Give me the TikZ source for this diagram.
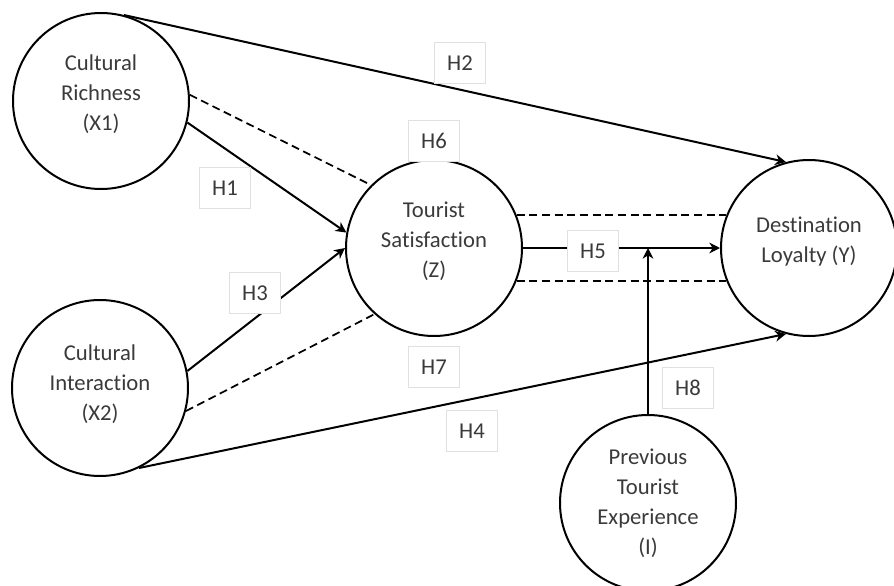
\documentclass[tikz,border=0pt]{standalone}
\usepackage{fontspec}
\setmainfont{Carlito}[Ligatures=NoCommon]
\usepackage{xcolor}
\definecolor{cLine}{HTML}{000000}
\definecolor{cText}{HTML}{3A3A3A}
\definecolor{cFrame}{HTML}{E0E0E0}
\usetikzlibrary{positioning,arrows.meta,calc}
\tikzset{
  node-construct/.style={draw=cLine,line width=1.5pt,circle,minimum size=132pt,
    inner sep=0pt},
  node-caption/.style={align=center,inner sep=0pt,text=cText,
    font=\fontsize{17}{22.5}\selectfont},
  node-hyp/.style={draw=cFrame,line width=0.5pt,fill=white,minimum width=38pt,
    minimum height=31pt,inner sep=0pt,text=cText,font=\fontsize{17}{20}\selectfont},
  arrow/.style={-{Stealth[length=8pt,width=8pt,inset=2.5pt]},line width=1.5pt,draw=cLine},
  link-dashed/.style={line width=1.3pt,draw=cLine,dash pattern=on 6pt off 3.5pt},
}

\begin{document}
\begin{tikzpicture}[x=0.75pt,y=-0.75pt]
  \useasboundingbox (0,0) rectangle (894,586);
  % constructs
  \node[node-construct,label={[node-caption,yshift=5pt]center:{Cultural\\Richness\\(X1)}}]
    (x1) at (101,101) {};
  \node[node-construct,label={[node-caption,yshift=3pt]center:{Cultural\\Interaction\\(X2)}}]
    (x2) at (100,388) {};
  \node[node-construct,label={[node-caption,yshift=5pt]center:{Tourist\\Satisfaction\\(Z)}}]
    (z) at (434,248) {};
  \node[node-construct,label={[node-caption,yshift=5pt]center:{Destination\\Loyalty (Y)}}]
    (y) at (809,248) {};
  \node[node-construct,label={[node-caption]center:{Previous\\Tourist\\Experience\\(I)}}]
    (i) at (648,503) {};
  \coordinate (mod) at (i.north |- z.east);
  % direct paths
  \draw[arrow] (x1.75)  -- (y.105);
  \draw[arrow] (x1.-14) -- (z.170);
  \draw[arrow] (x2.11)  -- (z.180);
  \draw[arrow] (x2.-64) -- (y.255);
  \draw[arrow] (z.east) -- (y.west);
  \draw[arrow] (i.north) -- (mod);
  % mediation
  \draw[link-dashed] (x1.4)   -- (z.135);
  \draw[link-dashed] (x2.-15) -- (z.228);
  \draw[link-dashed] (z.22)   -- (y.158);
  \draw[link-dashed] (z.-22)  -- (y.202);
  % hypotheses
  \node[node-hyp] (h2) at (460,63)  {H2};
  \node[node-hyp] (h6) at (434,141) {H6};
  \node[node-hyp] (h1) at (225,188) {H1};
  \node[node-hyp] (h3) at (255,293) {H3};
  \node[node-hyp] (h5) at (593,251) {H5};
  \node[node-hyp] (h7) at (434,367) {H7};
  \node[node-hyp] (h4) at (472,431) {H4};
  \node[node-hyp] (h8) at (688,388) {H8};
\end{tikzpicture}
\end{document}
